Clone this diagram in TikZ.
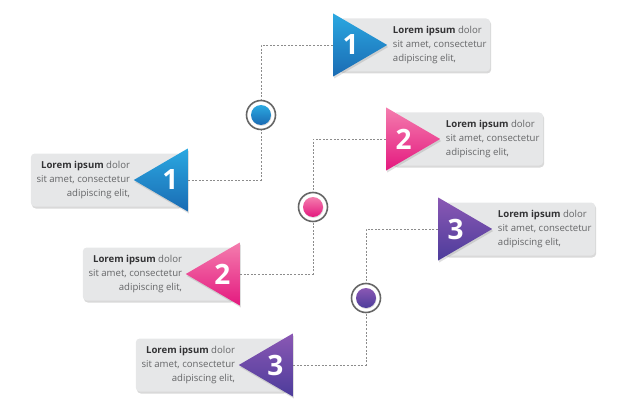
\documentclass[tikz,border=0pt]{standalone}
\usepackage{fontspec}
\setmainfont{Open Sans}
\usetikzlibrary{shapes.geometric,positioning,calc,shadows}

\definecolor{blueA}{HTML}{2BA9E1}
\definecolor{blueB}{HTML}{1A6AB3}
\definecolor{pinkA}{HTML}{F47DAE}
\definecolor{pinkB}{HTML}{E4197F}
\definecolor{purpleA}{HTML}{8A58B4}
\definecolor{purpleB}{HTML}{4D3C9B}
\definecolor{cardgray}{HTML}{E6E7E8}
\definecolor{textgray}{HTML}{656668}
\definecolor{titlegray}{HTML}{333335}
\definecolor{linkgray}{HTML}{8C8C8C}

\newcommand{\cardtext}{{\color{titlegray}\bfseries Lorem ipsum} dolor\\sit amet, consectetur\\adipiscing elit,}

\begin{document}
\begin{tikzpicture}[x=1pt, y=-1pt,
    card/.style={rectangle, fill=cardgray, rounded corners=4pt, minimum width=151pt, minimum height=53pt,
        drop shadow={opacity=0.3, shadow xshift=1pt, shadow yshift=-2pt}},
    rtri/.style={isosceles triangle, isosceles triangle stretches, shape border rotate=0,
        minimum width=63pt, minimum height=54pt, inner sep=0pt,
        drop shadow={opacity=0.25, shadow xshift=1pt, shadow yshift=-2pt}},
    ltri/.style={rtri, shape border rotate=180},
    num/.style={text=white, font=\fontsize{28}{28}\selectfont\bfseries, inner sep=0pt},
    rtxt/.style={align=left, text=textgray, font=\fontsize{9.6}{14}\selectfont, inner sep=0pt},
    ltxt/.style={rtxt, align=right},
    ring/.style={circle, draw=gray!80!black, line width=1.6pt, fill=white, minimum size=29pt, inner sep=0pt},
    dot/.style={circle, minimum size=20pt, inner sep=0pt, drop shadow={opacity=0.25, shadow xshift=0.5pt, shadow yshift=-1pt}},
    link/.style={draw=linkgray, line width=0.8pt, dash pattern=on 2pt off 1.6pt}
]
\useasboundingbox (0,0) rectangle (626,417);

% hubs
\node[ring] (c1) at (261,115) {};
\node[dot, top color=blueA, bottom color=blueB] (d1) at (c1) {};
\node[ring] (c2) at (313,207) {};
\node[dot, top color=pinkA, bottom color=pinkB] (d2) at (c2) {};
\node[ring] (c3) at (366,298) {};
\node[dot, top color=purpleA, bottom color=purpleB] (d3) at (c3) {};

% right side cards
\node[card, anchor=west] (rb1) at (339,45) {};
\node[rtri, anchor=west, top color=blueA, bottom color=blueB] (rt1) at ($(rb1.west)+(-6,0)$) {};
\node[num] (rn1) at ($(rt1.west)!0.32!(rt1.apex)$) {1};
\node[rtxt, right=5pt of rt1.apex] (rx1) {\cardtext};

\node[card, anchor=west] (rb2) at (392,139) {};
\node[rtri, anchor=west, top color=pinkA, bottom color=pinkB] (rt2) at ($(rb2.west)+(-6,0)$) {};
\node[num] (rn2) at ($(rt2.west)!0.32!(rt2.apex)$) {2};
\node[rtxt, right=5pt of rt2.apex] (rx2) {\cardtext};

\node[card, anchor=west] (rb3) at (444,229) {};
\node[rtri, anchor=west, top color=purpleA, bottom color=purpleB] (rt3) at ($(rb3.west)+(-6,0)$) {};
\node[num] (rn3) at ($(rt3.west)!0.32!(rt3.apex)$) {3};
\node[rtxt, right=5pt of rt3.apex] (rx3) {\cardtext};

% left side cards
\node[card, anchor=east] (lb1) at (182,180) {};
\node[ltri, anchor=east, top color=blueA, bottom color=blueB] (lt1) at ($(lb1.east)+(6,0)$) {};
\node[num] (ln1) at ($(lt1.east)!0.32!(lt1.apex)$) {1};
\node[ltxt, left=3pt of lt1.apex] (lx1) {\cardtext};

\node[card, anchor=east] (lb2) at (234,274) {};
\node[ltri, anchor=east, top color=pinkA, bottom color=pinkB] (lt2) at ($(lb2.east)+(6,0)$) {};
\node[num] (ln2) at ($(lt2.east)!0.32!(lt2.apex)$) {2};
\node[ltxt, left=3pt of lt2.apex] (lx2) {\cardtext};

\node[card, anchor=east] (lb3) at (287,365) {};
\node[ltri, anchor=east, top color=purpleA, bottom color=purpleB] (lt3) at ($(lb3.east)+(6,0)$) {};
\node[num] (ln3) at ($(lt3.east)!0.32!(lt3.apex)$) {3};
\node[ltxt, left=3pt of lt3.apex] (lx3) {\cardtext};

% dashed links
\draw[link] (rt1.west) -| (c1.north);
\draw[link] (lt1.east) -| (c1.south);
\draw[link] (rt2.west) -| (c2.north);
\draw[link] (lt2.east) -| (c2.south);
\draw[link] (rt3.west) -| (c3.north);
\draw[link] (lt3.east) -| (c3.south);

\end{tikzpicture}
\end{document}
